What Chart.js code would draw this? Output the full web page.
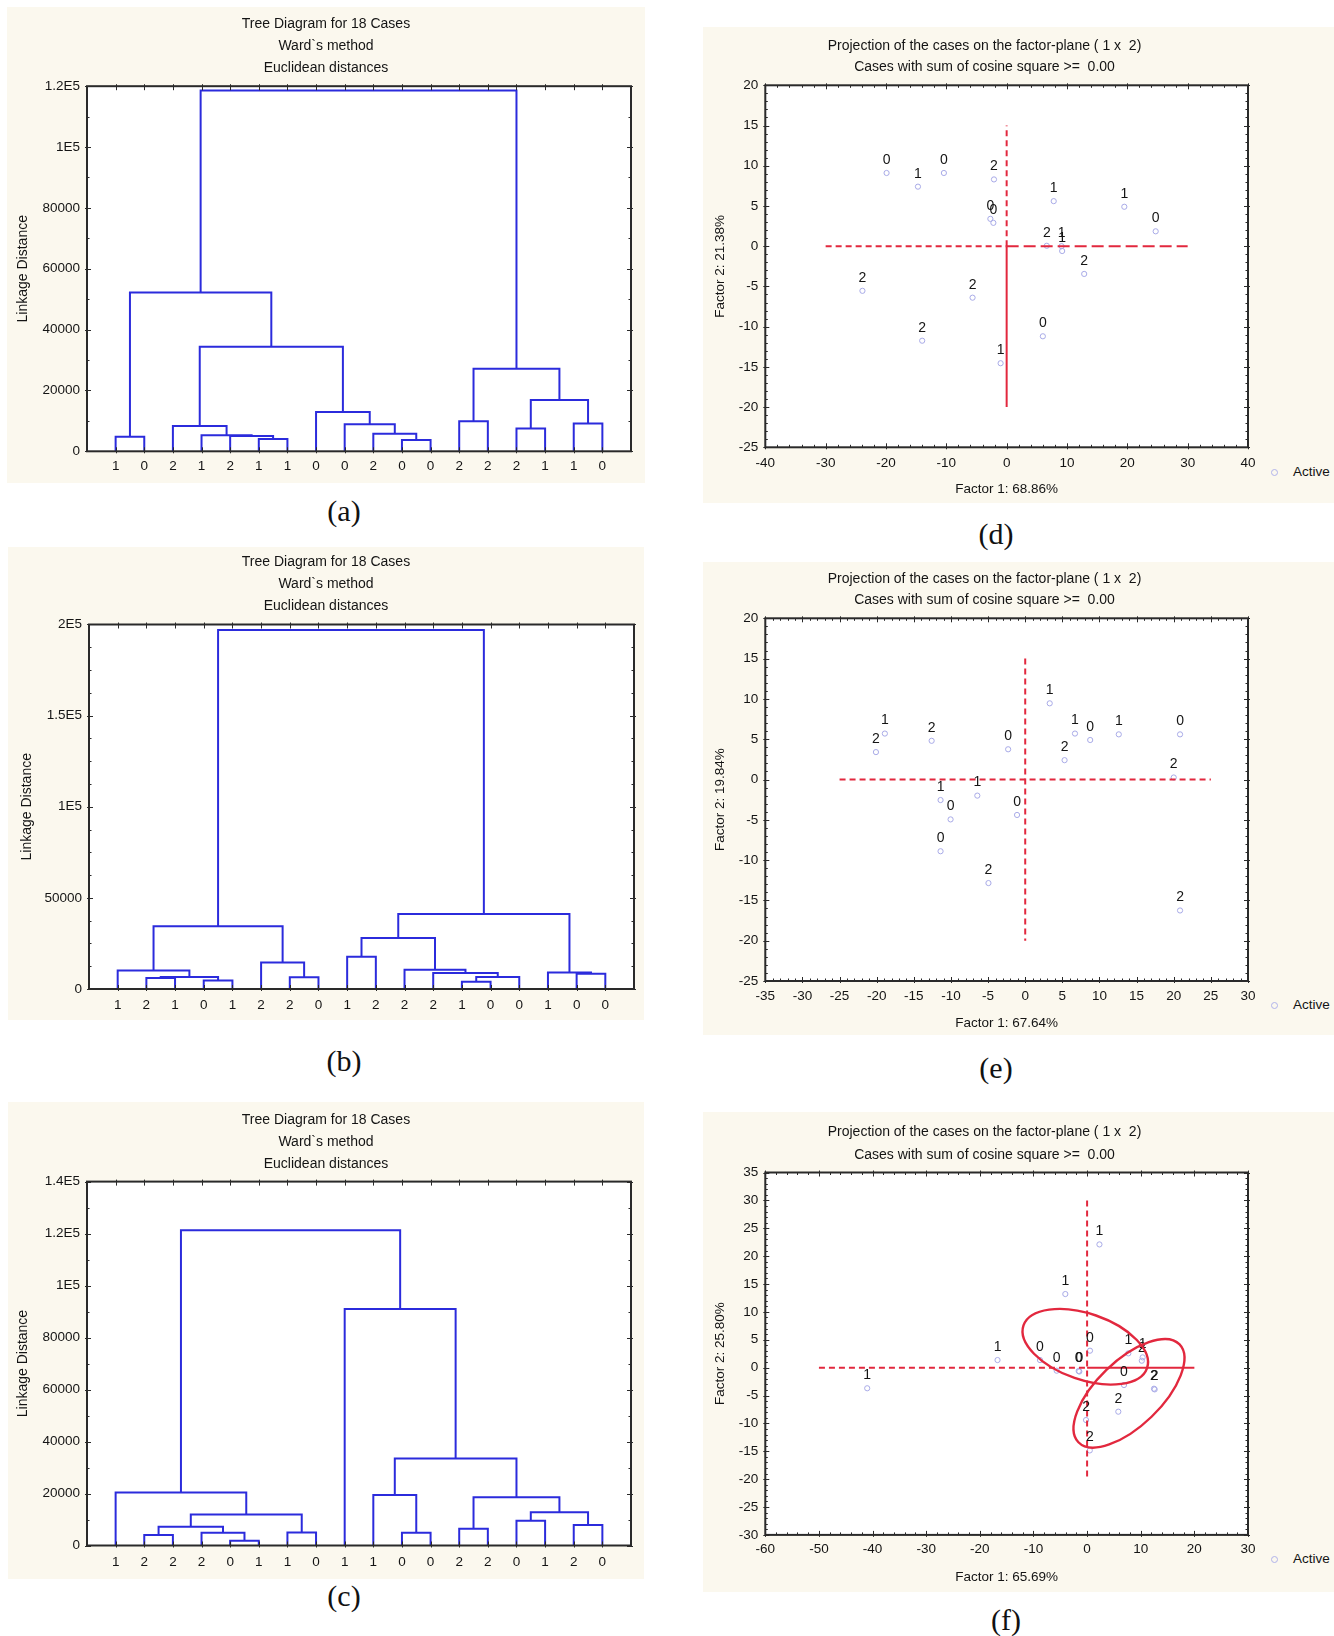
<!DOCTYPE html>
<html lang="en">
<head>
<meta charset="utf-8">
<title>Tree diagrams and factor-plane projections</title>
<script src="https://cdn.jsdelivr.net/npm/chart.js@4.4.1/dist/chart.umd.min.js"></script>
<style>
  html, body { margin: 0; padding: 0; background: #fff; }
  body { position: relative; width: 1334px; height: 1636px; overflow: hidden; font-family: "Liberation Sans", Arial, sans-serif; }
  .panel { position: absolute; background: #fbf8ee; }
  .panel canvas { position: absolute; left: 0; top: 0; }
  .cap { position: absolute; transform: translate(-50%, -50%); font-family: "Liberation Serif", "Times New Roman", serif; font-size: 30px; color: #111; }
  .legend { position: absolute; width: 70px; height: 16px; font-size: 13.5px; color: #141414; line-height: 16px; }
  .legend .dot { position: absolute; left: 0; top: 5px; width: 5px; height: 5px; border: 1px solid #b1b3ea; border-radius: 50%; }
  .legend span { position: absolute; left: 22px; top: 0; }
</style>
</head>
<body>
<div class="panel" style="left:7px;top:7px;width:638px;height:476px"><canvas id="treeA" width="638" height="476"></canvas></div>
<div class="panel" style="left:8px;top:547px;width:636px;height:473px"><canvas id="treeB" width="636" height="473"></canvas></div>
<div class="panel" style="left:8px;top:1102px;width:636px;height:477px"><canvas id="treeC" width="636" height="477"></canvas></div>
<div class="panel" style="left:703px;top:27px;width:631px;height:476px"><canvas id="projD" width="563" height="476"></canvas></div>
<div class="panel" style="left:703px;top:562px;width:631px;height:473px"><canvas id="projE" width="563" height="473"></canvas></div>
<div class="panel" style="left:703px;top:1112px;width:631px;height:480px"><canvas id="projF" width="563" height="480"></canvas></div>

<div class="legend" style="left:1271px;top:464px"><i class="dot"></i><span>Active</span></div>
<div class="legend" style="left:1271px;top:997px"><i class="dot"></i><span>Active</span></div>
<div class="legend" style="left:1271px;top:1551px"><i class="dot"></i><span>Active</span></div>

<div class="cap" style="left:344px;top:511px">(a)</div>
<div class="cap" style="left:344px;top:1061px">(b)</div>
<div class="cap" style="left:344px;top:1596px">(c)</div>
<div class="cap" style="left:996px;top:534px">(d)</div>
<div class="cap" style="left:996px;top:1068px">(e)</div>
<div class="cap" style="left:1006px;top:1620px">(f)</div>

<script>
// ---- tree diagrams: leaf labels (left to right) and merges [clusterA, clusterB, linkage distance]
// leaves are 0..17, every merge creates the next cluster id (18, 19, ...)
const leavesA = ['1','0','2','1','2','1','1','0','0','2','0','0','2','2','2','1','1','0'];
const mergesA = [
  [5, 6, 4050], [4, 18, 5000], [3, 19, 5300], [2, 20, 8300], [0, 1, 4800],
  [10, 11, 3700], [9, 23, 5800], [8, 24, 8900], [7, 25, 12900], [21, 26, 34400],
  [22, 27, 52200], [12, 13, 9900], [14, 15, 7500], [16, 17, 9100], [30, 31, 16900],
  [29, 32, 27100], [28, 33, 118600]
];
const yTicksA = [0, 20000, 40000, 60000, 80000, 100000, 120000];

const leavesB = ['1','2','1','0','1','2','2','0','1','2','2','2','1','0','0','1','0','0'];
const mergesB = [
  [1, 2, 6000], [3, 4, 4600], [18, 19, 6600], [0, 20, 10200], [6, 7, 6400],
  [5, 22, 14600], [21, 23, 34400], [8, 9, 17700], [12, 13, 4000], [26, 14, 6600],
  [11, 27, 8800], [10, 28, 10600], [25, 29, 28000], [16, 17, 8400], [15, 31, 9000],
  [30, 32, 41200], [24, 33, 197000]
];
const yTicksB = [0, 50000, 100000, 150000, 200000];

const leavesC = ['1','2','2','2','0','1','1','0','1','1','0','0','2','2','0','1','2','0'];
const mergesC = [
  [1, 2, 4000], [4, 5, 1800], [3, 19, 4900], [18, 20, 7200], [6, 7, 5000],
  [21, 22, 11900], [0, 23, 20400], [10, 11, 4900], [9, 25, 19400], [12, 13, 6400],
  [14, 15, 9500], [16, 17, 7900], [28, 29, 12800], [27, 30, 18600], [26, 31, 33500],
  [8, 32, 91000], [24, 33, 121300]
];
const yTicksC = [0, 20000, 40000, 60000, 80000, 100000, 120000, 140000];

// ---- projections of the cases on the factor plane
const factor1D = [-19.9, -14.7, -10.4, -2.1, -2.7, -2.2, 7.8, 19.5, 24.7, 6.65, 9.1, 9.2, 12.85, -23.9, -5.65, -14.0, 6.0, -1.0];
const factor2D = [9.1, 7.4, 9.1, 8.3, 3.4, 2.9, 5.6, 4.9, 1.85, 0.05, 0.0, -0.6, -3.45, -5.55, -6.4, -11.75, -11.2, -14.55];
const labelsD  = ['0','1','0','2','0','0','1','1','0','2','1','1','2','2','2','2','0','1'];
const xTicksD = [-40, -30, -20, -10, 0, 10, 20, 30, 40];
const yTicksD = [-25, -20, -15, -10, -5, 0, 5, 10, 15, 20];
const crossDashD = [[-30, 0, 0, 0], [0, 0, 0, 15]];
const crossLongD = [[0, 0, 30, 0]];
const crossSolidD = [[0, 0, 0, -20]];

const factor1E = [-20.1, -18.9, -12.6, -2.3, 3.3, 6.7, 8.75, 12.6, 20.85, 5.3, 20.0, -11.4, -10.05, -6.45, -1.1, -11.4, -4.95, 20.85];
const factor2E = [3.4, 5.7, 4.8, 3.75, 9.45, 5.7, 4.9, 5.6, 5.6, 2.4, 0.25, -2.55, -4.95, -2.0, -4.4, -8.9, -12.85, -16.25];
const labelsE  = ['2','1','2','0','1','1','0','1','0','2','2','1','0','1','0','0','2','2'];
const xTicksE = [-35, -30, -25, -20, -15, -10, -5, 0, 5, 10, 15, 20, 25, 30];
const yTicksE = [-25, -20, -15, -10, -5, 0, 5, 10, 15, 20];
const crossDashE = [[-25, 0, 25, 0], [0, 15, 0, -20]];

const factor1F = [2.3, -4.06, -16.7, -41.0, -8.78, -5.67, -1.57, -1.45, 0.54, 7.69, 10.36, 10.2, 6.88, 12.47, 12.6, 5.82, -0.2, 0.5];
const factor2F = [22.1, 13.2, 1.36, -3.7, 1.36, -0.55, -0.6, -0.7, 3.04, 2.56, 1.84, 1.24, -3.12, -3.78, -3.9, -7.9, -9.4, -14.85];
const labelsF  = ['1','1','1','1','0','0','0','0','0','1','1','2','0','2','2','2','2','2'];
const xTicksF = [-60, -50, -40, -30, -20, -10, 0, 10, 20, 30];
const yTicksF = [-30, -25, -20, -15, -10, -5, 0, 5, 10, 15, 20, 25, 30, 35];
const crossDashF = [[-50, 0, 0, 0], [0, 30, 0, -20]];
const crossSolidF = [[0, 0, 20, 0]];
// ellipses: centre, half major axis, half minor axis (factor units)
const ellipseCentreF = [[-0.34, 3.75], [7.81, -4.61]];
const ellipseMajorF = [[11.52, -3.82], [9.43, 8.77]];
const ellipseMinorF = [[-2.0, -5.6], [4.21, -4.2]];

const FONT = '"Liberation Sans", Arial, sans-serif';
const BLUE = '#2b2bdc';
const RED = '#e2283e';
const INK = '#141414';
Chart.defaults.font.family = FONT;
Chart.defaults.font.size = 13.5;
Chart.defaults.color = INK;

const fmtE = v => v >= 100000 ? (v / 100000) + 'E5' : String(v);

function steps(min, max, step) {
  const out = [];
  for (let v = min; v <= max + 1e-9; v += step) out.push(Math.round(v * 1000) / 1000);
  return out;
}

// white plot area, black frame and small tick marks on all four sides
function frameTicks(xMajor, xMinor, yMajor, yMinor) {
  return {
    id: 'frameTicks',
    beforeDraw(chart) {
      const { ctx, chartArea: a } = chart;
      ctx.save();
      ctx.fillStyle = '#fff';
      ctx.fillRect(a.left, a.top, a.width, a.height);
      ctx.restore();
    },
    afterDatasetsDraw(chart) {
      const { ctx, chartArea: a } = chart;
      const sx = chart.scales.x, sy = chart.scales.y;
      ctx.save();
      ctx.strokeStyle = '#2a2a2a';
      ctx.lineWidth = 1;
      ctx.beginPath();
      const tick = (vals, scale, horiz, inLen, outLen) => vals.forEach(v => {
        const p = Math.round(scale.getPixelForValue(v)) + 0.5;
        if (horiz) {
          ctx.moveTo(p, a.top - outLen); ctx.lineTo(p, a.top + inLen);
          ctx.moveTo(p, a.bottom + outLen); ctx.lineTo(p, a.bottom - inLen);
        } else {
          ctx.moveTo(a.left - outLen, p); ctx.lineTo(a.left + inLen, p);
          ctx.moveTo(a.right + outLen, p); ctx.lineTo(a.right - inLen, p);
        }
      });
      tick(xMinor, sx, true, 2.5, 0);
      tick(yMinor, sy, false, 2.5, 0);
      tick(xMajor, sx, true, 4, 2);
      tick(yMajor, sy, false, 4, 2);
      ctx.stroke();
      ctx.lineWidth = 2;
      ctx.strokeRect(a.left, a.top, a.width, a.height);
      ctx.restore();
    }
  };
}

function caseLabels(labels) {
  return {
    id: 'caseLabels',
    afterDatasetsDraw(chart) {
      const ctx = chart.ctx;
      const meta = chart.getDatasetMeta(chart.data.datasets.length - 1);
      ctx.save();
      ctx.font = '14px ' + FONT;
      ctx.fillStyle = INK;
      ctx.textAlign = 'center';
      ctx.textBaseline = 'middle';
      meta.data.forEach((pt, i) => ctx.fillText(labels[i], pt.x, pt.y - 13));
      ctx.restore();
    }
  };
}

function ellipses(centres, majors, minors) {
  return {
    id: 'ellipses',
    afterDatasetsDraw(chart) {
      const ctx = chart.ctx;
      const sx = chart.scales.x, sy = chart.scales.y;
      centres.forEach((c, i) => {
        const cx = sx.getPixelForValue(c[0]), cy = sy.getPixelForValue(c[1]);
        const ux = sx.getPixelForValue(c[0] + majors[i][0]) - cx;
        const uy = sy.getPixelForValue(c[1] + majors[i][1]) - cy;
        const vx = sx.getPixelForValue(c[0] + minors[i][0]) - cx;
        const vy = sy.getPixelForValue(c[1] + minors[i][1]) - cy;
        ctx.save();
        ctx.transform(ux, uy, vx, vy, cx, cy);
        ctx.beginPath();
        ctx.arc(0, 0, 1, 0, Math.PI * 2);
        ctx.restore();
        ctx.save();
        ctx.strokeStyle = RED;
        ctx.lineWidth = 2.4;
        ctx.stroke();
        ctx.restore();
      });
    }
  };
}

// the side gap is put on both sides of the title box so the title stays centred on the panel
function drawTree(id, leaves, merges, yTicks, yMinorStep, lay) {
  const n = leaves.length;
  const pos = leaves.map((_, i) => i + 1);
  const hgt = leaves.map(() => 0);
  const datasets = merges.map(([a, b, h]) => {
    pos.push((pos[a] + pos[b]) / 2);
    hgt.push(h);
    return {
      data: [{ x: pos[a], y: hgt[a] }, { x: pos[a], y: h }, { x: pos[b], y: h }, { x: pos[b], y: hgt[b] }],
      showLine: true, borderColor: BLUE, borderWidth: 2, pointRadius: 0,
      borderJoinStyle: 'miter', borderCapStyle: 'butt'
    };
  });
  const yMax = yTicks[yTicks.length - 1];
  const cats = leaves.map((_, i) => i + 1);
  const side = lay.padRight;

  new Chart(document.getElementById(id), {
    type: 'scatter',
    data: { datasets },
    options: {
      responsive: false, animation: false, devicePixelRatio: 1,
      layout: { autoPadding: false, padding: { left: side, top: 0, bottom: 0, right: side } },
      plugins: {
        legend: { display: false },
        tooltip: { enabled: false },
        title: {
          display: true,
          text: ['Tree Diagram for 18 Cases', 'Ward`s method', 'Euclidean distances'],
          color: INK,
          font: { size: 14, weight: 'normal', lineHeight: lay.titleLH / 14 },
          padding: { top: lay.titleTop, bottom: lay.titleBottom }
        }
      },
      scales: {
        x: {
          type: 'linear', min: 0, max: n + 1,
          afterBuildTicks: s => { s.ticks = cats.map(v => ({ value: v })); },
          ticks: { callback: (v, i) => leaves[i], padding: lay.labelPad, autoSkip: false, maxRotation: 0 },
          grid: { display: false, drawTicks: false },
          border: { display: false },
          afterFit: s => { s.height = lay.xHeight; s.paddingLeft = 0; s.paddingRight = 0; }
        },
        y: {
          type: 'linear', min: 0, max: yMax,
          afterBuildTicks: s => { s.ticks = yTicks.map(v => ({ value: v })); },
          ticks: { callback: v => fmtE(v), padding: 7 },
          grid: { display: false, drawTicks: false },
          border: { display: false },
          title: { display: true, text: 'Linkage Distance', color: INK, font: { size: 14 }, padding: { top: lay.yTitlePad - side, bottom: 0 } },
          afterFit: s => { s.width = lay.yWidth - side; s.paddingTop = 0; s.paddingBottom = 0; }
        }
      }
    },
    plugins: [frameTicks(cats, [], yTicks, steps(0, yMax, yMinorStep))]
  });
}

function segmentSets(segs, dash) {
  return segs.map(s => ({
    data: [{ x: s[0], y: s[1] }, { x: s[2], y: s[3] }],
    showLine: true, borderColor: RED, borderWidth: 2, borderDash: dash, pointRadius: 0
  }));
}

function drawProjection(id, p) {
  const datasets = [
    ...segmentSets(p.dashed || [], [6, 4]),
    ...segmentSets(p.longDashed || [], [12, 5]),
    ...segmentSets(p.solid || [], []),
    {
      data: p.xs.map((x, i) => ({ x, y: p.ys[i] })),
      pointStyle: 'circle', pointRadius: 2.6, pointBorderWidth: 1,
      pointBorderColor: '#a9abe8', pointBackgroundColor: 'rgba(0,0,0,0)', showLine: false
    }
  ];
  const xt = p.xTicks, yt = p.yTicks;
  const lay = p.lay;
  const side = 18;
  const plugins = [frameTicks(xt, steps(xt[0], xt[xt.length - 1], p.xMinor), yt, steps(yt[0], yt[yt.length - 1], 1)), caseLabels(p.labels)];
  if (p.ellipses) plugins.push(p.ellipses);

  new Chart(document.getElementById(id), {
    type: 'scatter',
    data: { datasets },
    options: {
      responsive: false, animation: false, devicePixelRatio: 1,
      layout: { autoPadding: false, padding: { left: side, top: 0, bottom: 0, right: side } },
      plugins: {
        legend: { display: false },
        tooltip: { enabled: false },
        title: {
          display: true,
          text: ['Projection of the cases on the factor-plane ( 1 x  2)', 'Cases with sum of cosine square >=  0.00'],
          color: INK,
          font: { size: 14, weight: 'normal', lineHeight: lay.titleLH / 14 },
          padding: { top: lay.titleTop, bottom: lay.titleBottom }
        }
      },
      scales: {
        x: {
          type: 'linear', min: xt[0], max: xt[xt.length - 1],
          afterBuildTicks: s => { s.ticks = xt.map(v => ({ value: v })); },
          ticks: { callback: v => String(v), padding: lay.labelPad, autoSkip: false, maxRotation: 0 },
          grid: { display: false, drawTicks: false },
          border: { display: false },
          title: { display: true, text: p.xTitle, color: INK, padding: { top: 0, bottom: lay.xTitlePad } },
          afterFit: s => { s.height = lay.xHeight; s.paddingLeft = 0; s.paddingRight = 0; }
        },
        y: {
          type: 'linear', min: yt[0], max: yt[yt.length - 1],
          afterBuildTicks: s => { s.ticks = yt.map(v => ({ value: v })); },
          ticks: { callback: v => String(v), padding: 7 },
          grid: { display: false, drawTicks: false },
          border: { display: false },
          title: { display: true, text: p.yTitle, color: INK, padding: { top: 9.2 - side, bottom: 0 } },
          afterFit: s => { s.width = 62.3 - side; s.paddingTop = 0; s.paddingBottom = 0; }
        }
      }
    },
    plugins
  });
}

drawTree('treeA', leavesA, mergesA, yTicksA, 10000,
  { yWidth: 80, xHeight: 31.7, padRight: 14, titleLH: 22.15, titleTop: 6.2, titleBottom: 6.55, labelPad: 7.1, yTitlePad: 7.9 });
drawTree('treeB', leavesB, mergesB, yTicksB, 12500,
  { yWidth: 81, xHeight: 31, padRight: 10, titleLH: 21.65, titleTop: 4.8, titleBottom: 7.75, labelPad: 7.7, yTitlePad: 10.3 });
drawTree('treeC', leavesC, mergesC, yTicksC, 10000,
  { yWidth: 79, xHeight: 33.5, padRight: 13, titleLH: 21.75, titleTop: 7.4, titleBottom: 6.95, labelPad: 8.9, yTitlePad: 6.9 });

drawProjection('projD', {
  xs: factor1D, ys: factor2D, labels: labelsD, xTicks: xTicksD, yTicks: yTicksD, xMinor: 2,
  dashed: crossDashD, longDashed: crossLongD, solid: crossSolidD,
  xTitle: 'Factor 1: 68.86%', yTitle: 'Factor 2: 21.38%',
  lay: { xHeight: 55.7, titleLH: 20.7, titleTop: 8.65, titleBottom: 8.25, labelPad: 7.9, xTitlePad: 5.2 }
});
drawProjection('projE', {
  xs: factor1E, ys: factor2E, labels: labelsE, xTicks: xTicksE, yTicks: yTicksE, xMinor: 1,
  dashed: crossDashE,
  xTitle: 'Factor 1: 67.64%', yTitle: 'Factor 2: 19.84%',
  lay: { xHeight: 54, titleLH: 20.7, titleTop: 6.65, titleBottom: 8.25, labelPad: 7.6, xTitlePad: 3.9 }
});
drawProjection('projF', {
  xs: factor1F, ys: factor2F, labels: labelsF, xTicks: xTicksF, yTicks: yTicksF, xMinor: 2,
  dashed: crossDashF, solid: crossSolidF,
  ellipses: ellipses(ellipseCentreF, ellipseMajorF, ellipseMinorF),
  xTitle: 'Factor 1: 65.69%', yTitle: 'Factor 2: 25.80%',
  lay: { xHeight: 57.1, titleLH: 22.2, titleTop: 9.4, titleBottom: 6.7, labelPad: 6.6, xTitlePad: 6.9 }
});
</script>
</body>
</html>
